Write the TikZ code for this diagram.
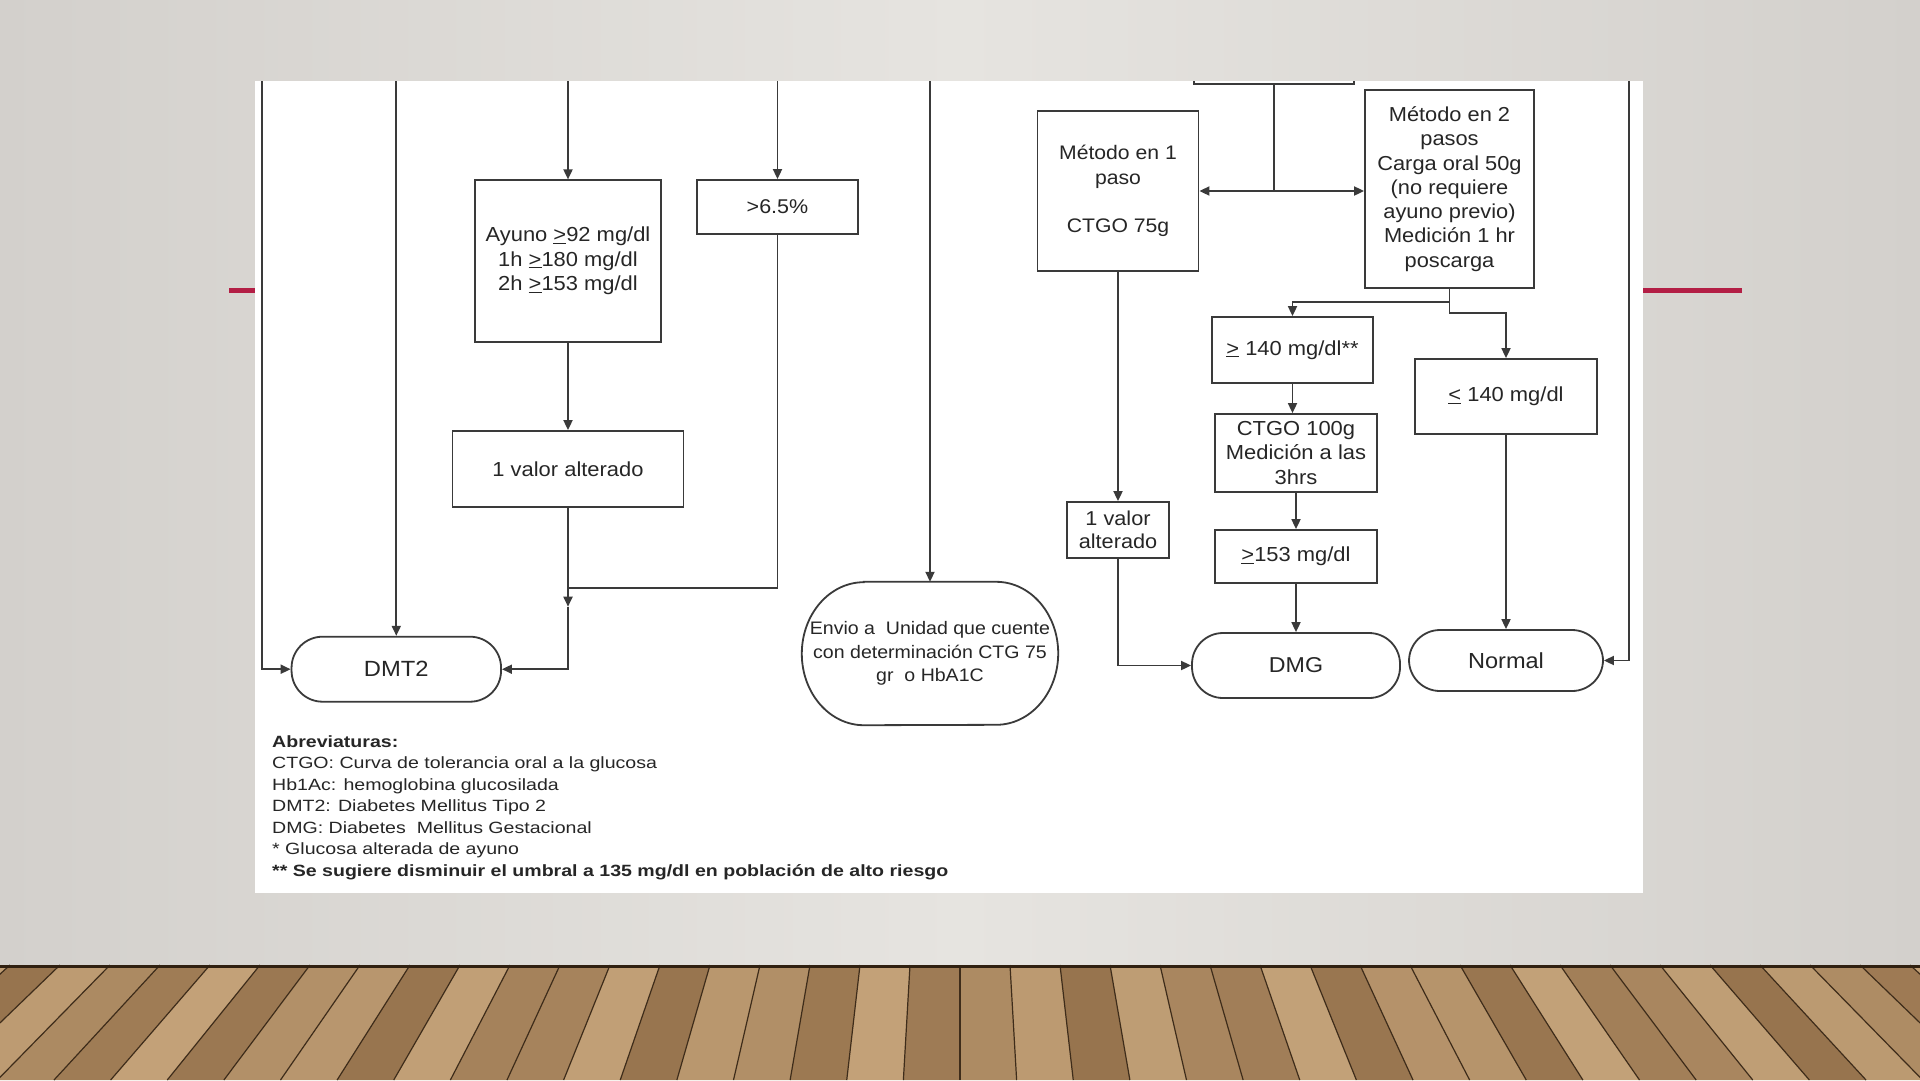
\documentclass[tikz,border=0pt]{standalone}
\usepackage{fontspec}
\setmainfont[FakeStretch=1.08]{Liberation Sans}
\newfontfamily\legfont[FakeStretch=1.2]{Liberation Sans}
\usetikzlibrary{arrows.meta}
\definecolor{wallE}{HTML}{D3D0CC}
\definecolor{wallC}{HTML}{E6E4E0}
\definecolor{lnc}{HTML}{3A3A3A}
\definecolor{txc}{HTML}{262626}
\definecolor{redl}{HTML}{B31E45}
\definecolor{woodA}{HTML}{CDAC82}
\definecolor{woodB}{HTML}{8E6A45}
\definecolor{woodL}{HTML}{3E2C1A}
\newcommand{\uge}{\underline{>}}
\newcommand{\ule}{\underline{<}}
\newcommand{\fsz}[2]{\fontsize{#1}{#2}\selectfont}
\begin{document}
\begin{tikzpicture}[x=1pt,y=-1pt,
  box/.style={draw=lnc, line width=1.8pt, fill=white, inner sep=0pt, align=center, text=txc},
  term/.style={box, rounded corners=31pt},
  arr/.style={draw=lnc, line width=1.8pt, -{Triangle[length=10pt,width=9pt]}},
  ln/.style={draw=lnc, line width=1.8pt},
  leg/.style={anchor=base west, inner sep=0pt, text=txc, font=\legfont\fsz{16.3}{20}},
]
\useasboundingbox (0,0) rectangle (1920,1080);
% wall
\shade[left color=wallE, right color=wallE, middle color=wallC] (0,0) rectangle (1920,966);
% floor
\fill[woodB] (0,965) rectangle (1920,1080);
\foreach \k in {-22,...,21}{
  \pgfmathsetmacro\xa{960+\k*50}
  \pgfmathsetmacro\xb{960+(\k+1)*50}
  \pgfmathsetmacro\xc{960+(\k+1)*50*1.1325}
  \pgfmathsetmacro\xd{960+\k*50*1.1325}
  \pgfmathtruncatemacro\p{50+35*sin(\k*137.5)}
  \fill[woodA!\p!woodB] (\xa,965) -- (\xb,965) -- (\xc,1080) -- (\xd,1080) -- cycle;
  \draw[woodL, line width=1.2pt] (\xa,965) -- (\xd,1080);
}
\draw[black!75!brown, line width=3pt] (0,966) -- (1920,966);
% red accent line and panel
\draw[redl, line width=5pt] (229,290.5) -- (1742,290.5);
\fill[white] (255,81) rectangle (1643,893);

\begin{scope}
\clip (255,81) rectangle (1643,893);
% left part
\node[box, minimum width=186.6pt, minimum height=161.4pt, font=\fsz{20.3}{24.5}] (ayuno) at (568,261)
  {Ayuno \uge92 mg/dl\\1h \uge180 mg/dl\\2h \uge153 mg/dl};
\node[box, minimum width=160.5pt, minimum height=54pt, font=\fsz{19.9}{23}] (pct) at (777.5,207) {>6.5\%};
\node[box, minimum width=231pt, minimum height=76pt, font=\fsz{20.3}{23}] (val1) at (568,469) {1 valor alterado};
\node[term, minimum width=209.5pt, minimum height=65pt, font=\fsz{22}{25}] (dmt2) at (396.3,669.2) {DMT2};
% envio
\node[inner sep=0pt, minimum width=256pt, minimum height=143pt, align=center, text=txc, font=\fsz{18.1}{23.5}] (envio) at (930,653.5)
  {Envio a~ Unidad que cuente\\con determinación CTG 75\\gr~ o HbA1C};
\draw[ln] ([xshift=62pt]envio.north west) -- ([xshift=-62pt]envio.north east)
  arc[start angle=90, end angle=-90, x radius=62pt, y radius=71.5pt]
  -- ([xshift=62pt]envio.south west)
  arc[start angle=270, end angle=90, x radius=62pt, y radius=71.5pt] -- cycle;
% right part
\node[box, minimum width=160pt, minimum height=44pt] (topb) at (1274,62) {};
\node[box, minimum width=161pt, minimum height=160pt, font=\fsz{19.6}{24.3}] (met1) at (1118,191)
  {Método en 1\\paso\\[24.3pt]CTGO 75g};
\node[box, minimum width=169pt, minimum height=198pt, font=\fsz{20.2}{24.3}] (met2) at (1449.5,189)
  {Método en 2\\pasos\\Carga oral 50g\\(no requiere\\ayuno previo)\\Medición 1 hr\\poscarga};
\node[box, minimum width=161pt, minimum height=66pt, font=\fsz{20.3}{24}] (ge140) at (1292.5,350) {\uge{} 140 mg/dl**};
\node[box, minimum width=162pt, minimum height=78pt, font=\fsz{20.3}{24.5}] (ctgo) at (1296,453)
  {CTGO 100g\\Medición a las\\3hrs};
\node[box, minimum width=162pt, minimum height=53pt, font=\fsz{20.3}{24}] (ge153) at (1296,556.5) {\uge153 mg/dl};
\node[box, minimum width=182pt, minimum height=75pt, font=\fsz{20.3}{24}] (le140) at (1506,396.5) {\ule{} 140 mg/dl};
\node[box, minimum width=102pt, minimum height=56pt, font=\fsz{20.1}{23}] (val2) at (1118,530) {1 valor\\alterado};
\node[term, minimum width=208pt, minimum height=65pt, font=\fsz{21.5}{25}] (dmg) at (1296,665.5) {DMG};
\node[term, minimum width=194pt, minimum height=61pt, font=\fsz{21.8}{25}] (normal) at (1506,660.5) {Normal};

% connectors left
\coordinate (l0) at (262,70);
\coordinate (l1) at (396.3,70);
\coordinate (l2) at (568,70);
\coordinate (l3) at (777.5,70);
\coordinate (l4) at (930,70);
\coordinate (r0) at (1629,70);
\coordinate (m1) at (568,606.7);
\coordinate (j1) at (568,588.3);
\coordinate (j2) at (1274,191);
\draw[arr] (l0) |- (dmt2.west);
\draw[arr] (l1) -- (dmt2.north);
\draw[arr] (l2) -- (ayuno.north);
\draw[arr] (l3) -- (pct.north);
\draw[arr] (l4) -- (envio.north);
\draw[arr] (ayuno.south) -- (val1.north);
\draw[arr] (val1.south) -- (m1);
\draw[arr] (m1) |- (dmt2.east);
\draw[ln] (pct.south) |- (j1);
% connectors right
\draw[ln] (topb.south) -- (j2);
\draw[arr] (j2) -- (met1.east |- j2);
\draw[arr] (j2) -- (met2.west |- j2);
\draw[arr] (met1.south) -- (val2.north);
\draw[arr] (val2.south) |- (dmg.west);
\draw[arr] (met2.south) -- ++(0,13) -| (ge140.north);
\draw[arr] (met2.south) -- ++(0,24) -| (le140.north);
\draw[arr] (ge140.south) -- (ge140.south |- ctgo.north);
\draw[arr] (ctgo.south) -- (ge153.north);
\draw[arr] (ge153.south) -- (dmg.north);
\draw[arr] (le140.south) -- (normal.north);
\draw[arr] (r0) |- (normal.east);
\end{scope}

% legend
\node[leg, font=\legfont\fsz{16.3}{20}\bfseries] (lg0) at (272,747) {Abreviaturas:};
\node[leg] (lg1) at (272,768.7) {CTGO: Curva de tolerancia oral a la glucosa};
\node[leg] (lg2) at (272,790) {Hb1Ac: hemoglobina glucosilada};
\node[leg] (lg3) at (272,811.3) {DMT2: Diabetes Mellitus Tipo 2};
\node[leg] (lg4) at (272,833) {DMG: Diabetes~ Mellitus Gestacional};
\node[leg] (lg5) at (272,854.7) {* Glucosa alterada de ayuno};
\node[leg, font=\legfont\fsz{16.3}{20}\bfseries] (lg6) at (272,876.4) {** Se sugiere disminuir el umbral a 135 mg/dl en población de alto riesgo};
\end{tikzpicture}
\end{document}
